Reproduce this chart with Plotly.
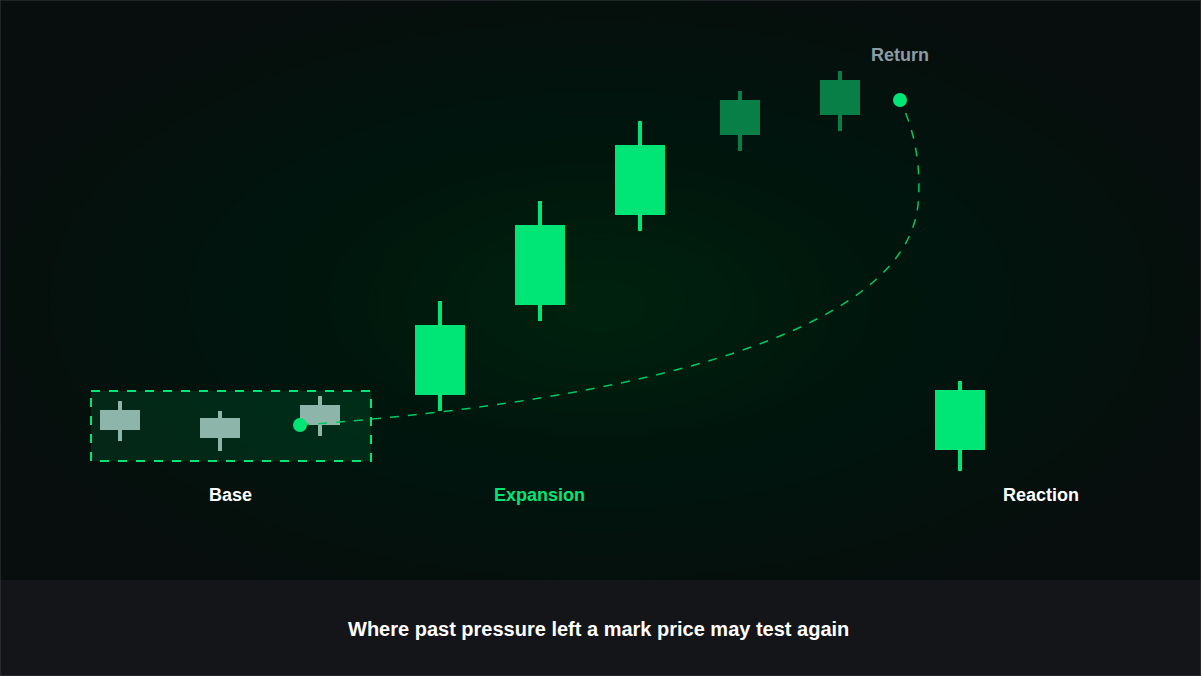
import plotly.graph_objects as go

# candle data (price level expressed in chart units, axis reversed)
xs     = [120, 220, 320, 440, 540, 640, 740, 840, 960]
opens  = [430, 438, 425, 395, 305, 215, 135, 115, 450]
closes = [410, 418, 405, 325, 225, 145, 100, 80, 390]
highs  = [401, 411, 396, 301, 201, 121, 91, 71, 381]
lows   = [441, 451, 436, 411, 321, 231, 151, 131, 471]
colors = ["#8db5aa"]*3 + ["#00e676"]*3 + ["#087f47"]*2 + ["#00e676"]
widths = [40, 40, 40, 50, 50, 50, 40, 40, 50]
labels = ["Base", "Expansion", "Reaction"]
label_x = [230, 539, 1041]
label_col = ["#ffffff", "#00e676", "#ffffff"]

fig = go.Figure()
fig.add_trace(go.Bar(x=xs, y=[l - h for h, l in zip(highs, lows)], base=highs,
                     width=4, marker=dict(color=colors, line=dict(width=0)), hoverinfo="skip"))
fig.add_trace(go.Bar(x=xs, y=[o - c for o, c in zip(opens, closes)], base=closes,
                     width=widths, marker=dict(color=colors, line=dict(width=0)), hoverinfo="skip"))

shapes = []
# soft glow: many faint layers
n = 14
for i in range(n):
    f = 1 - i / n
    rx, ry = 650 * f + 40, 330 * f + 20
    shapes.append(dict(type="circle", xref="x", yref="y", x0=600-rx, x1=600+rx, y0=300-ry, y1=300+ry,
                       fillcolor="rgba(0,120,70,0.018)", line=dict(width=0), layer="below"))
for i in range(6):
    f = 1 - i / 6
    rx, ry = 222 * f + 10, 122 * f + 6
    shapes.append(dict(type="circle", xref="x", yref="y", x0=600-rx, x1=600+rx, y0=306-ry, y1=306+ry,
                       fillcolor="rgba(0,140,80,0.012)", line=dict(width=0), layer="below"))
shapes.append(dict(type="rect", xref="x", yref="y", x0=0, x1=1201, y0=580, y1=676,
                   fillcolor="#141519", line=dict(width=0), layer="below"))
shapes.append(dict(type="rect", xref="x", yref="y", x0=91, x1=371, y0=391, y1=461,
                   fillcolor="rgba(0,200,100,0.13)", line=dict(color="#00e676", width=2, dash="dash"), layer="below"))
shapes.append(dict(type="path", xref="x", yref="y",
                   path="M 300 425 C 650 400 905 330 918 205 C 922 160 912 125 900 100",
                   line=dict(color="#00c864", width=1.5, dash="dash")))
for cx, cy in [(300, 425), (900, 100)]:
    shapes.append(dict(type="circle", xref="x", yref="y", x0=cx-7, x1=cx+7, y0=cy-7, y1=cy+7,
                       fillcolor="#00e676", line=dict(width=0)))
shapes.append(dict(type="rect", xref="paper", yref="paper", x0=0, x1=1, y0=0, y1=1,
                   line=dict(color="#3a3f44", width=1)))

ann = [dict(x=x, y=495, text=f"<b>{t}</b>", font=dict(color=c, size=18), showarrow=False)
       for x, t, c in zip(label_x, labels, label_col)]
ann.append(dict(x=900, y=55, text="<b>Return</b>", font=dict(color="#8d9ca4", size=18), showarrow=False))
ann.append(dict(x=598, y=629, text="<b>Where past pressure left a mark price may test again</b>",
                font=dict(color="#ffffff", size=20), showarrow=False))

fig.update_layout(
    width=1201, height=676, margin=dict(l=0, r=0, t=0, b=0),
    paper_bgcolor="#080d0d", plot_bgcolor="#080d0d",
    showlegend=False, barmode="overlay", shapes=shapes, annotations=ann,
    font=dict(family="Liberation Sans, Arial, sans-serif"),
    xaxis=dict(range=[0, 1201], visible=False, fixedrange=True),
    yaxis=dict(range=[676, 0], visible=False, fixedrange=True),
)
fig.write_html("out.html", config={"displayModeBar": False},
               post_script="document.body.style.margin='0';document.body.style.overflow='hidden';")
